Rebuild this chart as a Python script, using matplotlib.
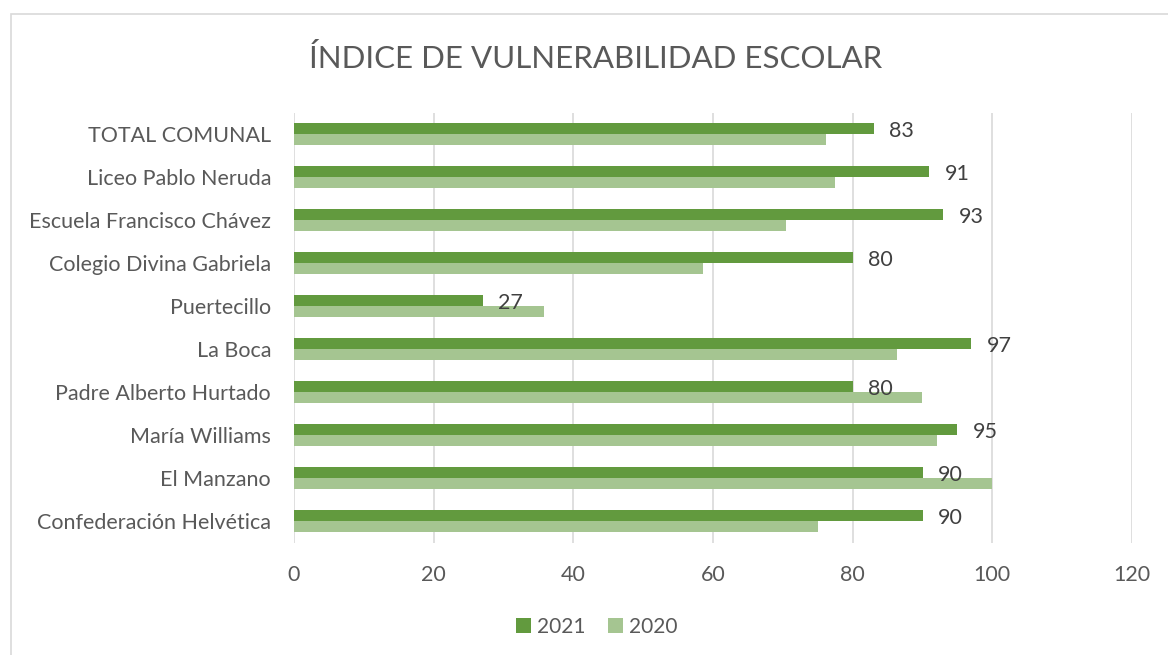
import matplotlib
matplotlib.use("Agg")
import matplotlib.pyplot as plt
import numpy as np
from matplotlib.patches import Rectangle

categories = ["TOTAL COMUNAL", "Liceo Pablo Neruda", "Escuela Francisco Chávez",
              "Colegio Divina Gabriela", "Puertecillo", "La Boca",
              "Padre Alberto Hurtado", "María Williams", "El Manzano",
              "Confederación Helvética"]
values_2021 = [83, 91, 93, 80, 27, 97, 80, 95, 90, 90]
values_2020 = [76.2, 77.4, 70.5, 58.6, 35.8, 86.4, 89.9, 92.1, 100, 75.1]
xticks = [0, 20, 40, 60, 80, 100, 120]
title = "ÍNDICE DE VULNERABILIDAD ESCOLAR"

c2021 = "#629A3E"
c2020 = "#A5C591"
txt = "#595959"

plt.rcParams['font.family'] = ['Lato', 'DejaVu Sans']

W, H = 1168, 655
fig = plt.figure(figsize=(W/100, H/100), dpi=100)
ax = fig.add_axes([294/W, 1-542.5/H, (1132-294)/W, 430/H])

y = np.arange(len(categories))
h = 0.26
ax.barh(y - h/2, values_2021, height=h, color=c2021, label="2021", zorder=3)
ax.barh(y + h/2, values_2020, height=h, color=c2020, label="2020", zorder=3)

for yi, v in zip(y, values_2021):
    ax.annotate(str(v), (v, yi - h/2 + 0.07), xytext=(11, 0), textcoords="offset points",
                va="center", ha="left", fontsize=15.5, color="#404040", zorder=4)

ax.set_xlim(0, 120)
ax.set_ylim(len(categories) - 0.5, -0.5)
ax.set_xticks(xticks)
ax.set_xticklabels([str(t) for t in xticks])
ax.set_yticks(y)
ax.set_yticklabels(categories)
for t in xticks:
    ax.axvline(t, color="#D9D9D9", lw=1.2, zorder=1)
for s in ax.spines.values():
    s.set_visible(False)
ax.tick_params(axis="both", length=0, labelsize=15.5, colors=txt)
ax.tick_params(axis="x", pad=16)
ax.tick_params(axis="y", pad=16.5)

fig.text(596/W, 1-58/H, title, ha="center", va="center", fontsize=22.5,
         color=txt)

fig.legend(loc="center", bbox_to_anchor=(597/W, 1-627/H), ncol=2, frameon=False,
           fontsize=15, handlelength=0.7, handleheight=0.7, handletextpad=0.3,
           columnspacing=1.1, labelcolor=txt)

fig.patches.append(Rectangle((11/W, -0.05), 1.2, 1-14/H+0.05, transform=fig.transFigure,
                             fill=False, edgecolor="#D9D9D9", lw=1.2))

fig.savefig("out.png", dpi=100, facecolor="white")
